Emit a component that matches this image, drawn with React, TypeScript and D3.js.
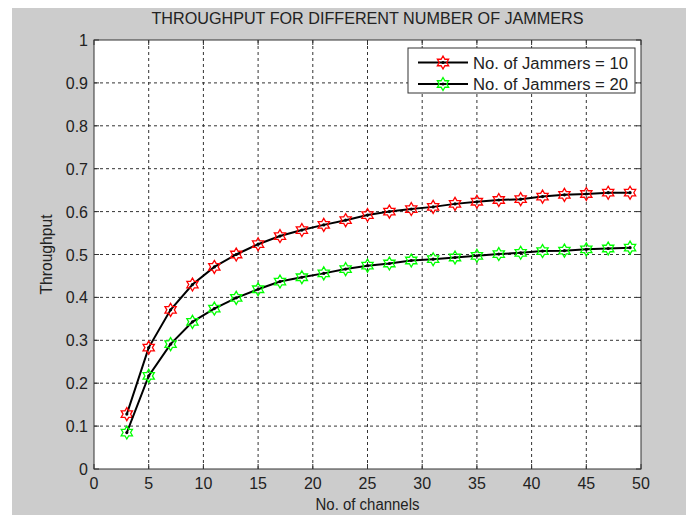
import React from "react";
import * as d3 from "d3";

// Number of channels (x) and throughput for each jammer count
const channels = [3, 5, 7, 9, 11, 13, 15, 17, 19, 21, 23, 25, 27, 29, 31, 33, 35, 37, 39, 41, 43, 45, 47, 49];
const jammers10 = [0.128, 0.283, 0.371, 0.430, 0.471, 0.500, 0.524, 0.543, 0.557, 0.569, 0.580, 0.592, 0.600, 0.606, 0.611, 0.618, 0.623, 0.627, 0.629, 0.635, 0.639, 0.641, 0.644, 0.644];
const jammers20 = [0.085, 0.217, 0.291, 0.343, 0.374, 0.399, 0.419, 0.437, 0.447, 0.456, 0.466, 0.474, 0.479, 0.486, 0.489, 0.493, 0.497, 0.501, 0.504, 0.508, 0.509, 0.512, 0.514, 0.516];
const xTicks = [0, 5, 10, 15, 20, 25, 30, 35, 40, 45, 50];
const yTicks = [0, 0.1, 0.2, 0.3, 0.4, 0.5, 0.6, 0.7, 0.8, 0.9, 1];
const seriesNames = ["No. of Jammers = 10", "No. of Jammers = 20"];
const seriesColors = ["#ff0000", "#00ff00"];

const W = 686;
const H = 515;
const plot = { left: 94, right: 641, top: 40, bottom: 469 };
const FONT = "'Liberation Sans', Arial, sans-serif";

// Six-pointed star outline centred at (0,0)
function hexagram(R: number): string {
  const r = R / Math.sqrt(3);
  const pts: [number, number][] = [];
  for (let i = 0; i < 12; i++) {
    const a = -Math.PI / 2 + (i * Math.PI) / 6;
    const rad = i % 2 === 0 ? R : r;
    pts.push([rad * Math.cos(a), rad * Math.sin(a)]);
  }
  return d3.line()(pts)! + "Z";
}

export default function App() {
  const x = d3.scaleLinear().domain([0, 50]).range([plot.left, plot.right]);
  const y = d3.scaleLinear().domain([0, 1]).range([plot.bottom, plot.top]);
  const line = d3
    .line<[number, number]>()
    .x((d) => x(d[0]))
    .y((d) => y(d[1]));
  const star = hexagram(6.5);
  const series = [jammers10, jammers20];
  const tickLen = 5;

  return (
    <svg width={W} height={H} style={{ position: "absolute", left: 0, top: 0 }} fontFamily={FONT}>
      <rect x={0} y={0} width={W} height={H} fill="#ffffff" />
      <rect x={12} y={8} width={W - 12} height={H - 8} fill="#cccccc" />
      <rect x={plot.left} y={plot.top} width={plot.right - plot.left} height={plot.bottom - plot.top} fill="#ffffff" />

      {/* dotted grid */}
      <g stroke="#111" strokeWidth={1} strokeDasharray="3,3" opacity={0.85}>
        {xTicks.slice(1, -1).map((t) => (
          <line key={"gx" + t} x1={x(t)} x2={x(t)} y1={plot.top} y2={plot.bottom} />
        ))}
        {yTicks.slice(1, -1).map((t) => (
          <line key={"gy" + t} x1={plot.left} x2={plot.right} y1={y(t)} y2={y(t)} />
        ))}
      </g>

      {/* inward ticks on all four sides */}
      <g stroke="#333" strokeWidth={1}>
        {xTicks.map((t) => (
          <g key={"tx" + t}>
            <line x1={x(t)} x2={x(t)} y1={plot.bottom} y2={plot.bottom - tickLen} />
            <line x1={x(t)} x2={x(t)} y1={plot.top} y2={plot.top + tickLen} />
          </g>
        ))}
        {yTicks.map((t) => (
          <g key={"ty" + t}>
            <line x1={plot.left} x2={plot.left + tickLen} y1={y(t)} y2={y(t)} />
            <line x1={plot.right} x2={plot.right - tickLen} y1={y(t)} y2={y(t)} />
          </g>
        ))}
      </g>

      {/* data */}
      {series.map((vals, si) => {
        const pts = channels.map((c, i) => [c, vals[i]] as [number, number]);
        return (
          <g key={"s" + si}>
            <path d={line(pts)!} fill="none" stroke="#000" strokeWidth={2} />
            {pts.map((p, i) => (
              <g key={i} transform={`translate(${x(p[0])},${y(p[1])})`}>
                <path d={star} fill="none" stroke={seriesColors[si]} strokeWidth={1.3} />
                <circle r={1.6} fill="#000" />
              </g>
            ))}
          </g>
        );
      })}

      {/* axes frame */}
      <rect x={plot.left} y={plot.top} width={plot.right - plot.left} height={plot.bottom - plot.top} fill="none" stroke="#333" strokeWidth={1} />

      {/* tick labels */}
      <g fontSize={16} fill="#222">
        {xTicks.map((t) => (
          <text key={"lx" + t} x={x(t)} y={plot.bottom + 20} textAnchor="middle">
            {t}
          </text>
        ))}
        {yTicks.map((t) => (
          <text key={"ly" + t} x={plot.left - 6} y={y(t) + 6} textAnchor="end">
            {t}
          </text>
        ))}
      </g>

      {/* titles */}
      <text x={(plot.left + plot.right) / 2} y={24} textAnchor="middle" fontSize={16} textLength={432} lengthAdjust="spacingAndGlyphs" fill="#222">
        THROUGHPUT FOR DIFFERENT NUMBER OF JAMMERS
      </text>
      <text x={(plot.left + plot.right) / 2} y={510} textAnchor="middle" fontSize={16} textLength={104} lengthAdjust="spacingAndGlyphs" fill="#222">
        No. of channels
      </text>
      <text transform={`translate(52,${(plot.top + plot.bottom) / 2}) rotate(-90)`} textAnchor="middle" fontSize={16} textLength={80} lengthAdjust="spacingAndGlyphs" fill="#222">
        Throughput
      </text>

      {/* legend */}
      <g>
        <rect x={408} y={48} width={227} height={45} fill="#ffffff" stroke="#333" strokeWidth={1} />
        {seriesNames.map((name, i) => {
          const ly = 62.5 + i * 21.5;
          return (
            <g key={"lg" + i}>
              <line x1={418} x2={468} y1={ly} y2={ly} stroke="#000" strokeWidth={2} />
              <g transform={`translate(443,${ly})`}>
                <path d={star} fill="none" stroke={seriesColors[i]} strokeWidth={1.3} />
                <circle r={1.6} fill="#000" />
              </g>
              <text x={473} y={ly + 6} fontSize={16} textLength={155} lengthAdjust="spacingAndGlyphs" fill="#222">
                {name}
              </text>
            </g>
          );
        })}
      </g>
    </svg>
  );
}
